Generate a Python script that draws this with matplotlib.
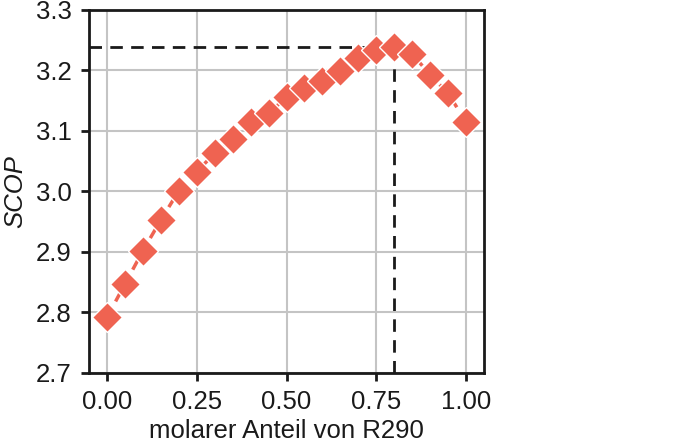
import matplotlib
matplotlib.use("Agg")
import matplotlib.pyplot as plt

plt.rcParams['font.family'] = ['Liberation Sans', 'DejaVu Sans']

x_frac = [0.00, 0.05, 0.10, 0.15, 0.20, 0.25, 0.30, 0.35, 0.40, 0.45, 0.50,
          0.55, 0.60, 0.65, 0.70, 0.75, 0.80, 0.85, 0.90, 0.95, 1.00]
scop = [2.792, 2.847, 2.902, 2.953, 3.001, 3.033, 3.063, 3.086, 3.115, 3.129, 3.156,
        3.171, 3.182, 3.199, 3.220, 3.234, 3.238, 3.227, 3.193, 3.162, 3.115]
x_opt = 0.80
scop_max = 3.238
xticks = [0.00, 0.25, 0.50, 0.75, 1.00]
yticks = [2.7, 2.8, 2.9, 3.0, 3.1, 3.2, 3.3]

fig = plt.figure(figsize=(6.85, 4.44), dpi=100)
ax = fig.add_axes([0.130, 0.160, 0.5766, 0.8175])

color = '#ef6351'
ax.plot(x_frac, scop, color=color, lw=2.5, dashes=(3, 2.2), marker='D', ms=15.5,
        mfc=color, mec='white', mew=1.0, zorder=3)

ax.plot([-0.05, x_opt], [scop_max, scop_max], color='#1a1a1a', lw=2, dashes=(4.5, 3), zorder=2)
ax.plot([x_opt, x_opt], [2.7, scop_max], color='#1a1a1a', lw=2, dashes=(4.5, 3), zorder=2)

ax.set_xlim(-0.05, 1.05)
ax.set_ylim(2.7, 3.3)
ax.set_xticks(xticks)
ax.set_xticklabels([f"{t:.2f}" for t in xticks])
ax.set_yticks(yticks)
ax.set_yticklabels([f"{t:.1f}" for t in yticks])
ax.grid(True, color='#c4c4c4', lw=1.5)
ax.set_axisbelow(True)
for s in ax.spines.values():
    s.set_linewidth(2)
    s.set_color('#1a1a1a')
ax.tick_params(axis='both', labelsize=18.5, length=6, width=2, pad=6.5,
               color='#1a1a1a', labelcolor='#1a1a1a')
ax.set_xlabel('molarer Anteil von R290', fontsize=18.5, color='#1a1a1a', labelpad=3.5)
ax.set_ylabel('SCOP', fontsize=18.5, fontstyle='italic', color='#1a1a1a', labelpad=6)

fig.savefig('out.png', dpi=100)
